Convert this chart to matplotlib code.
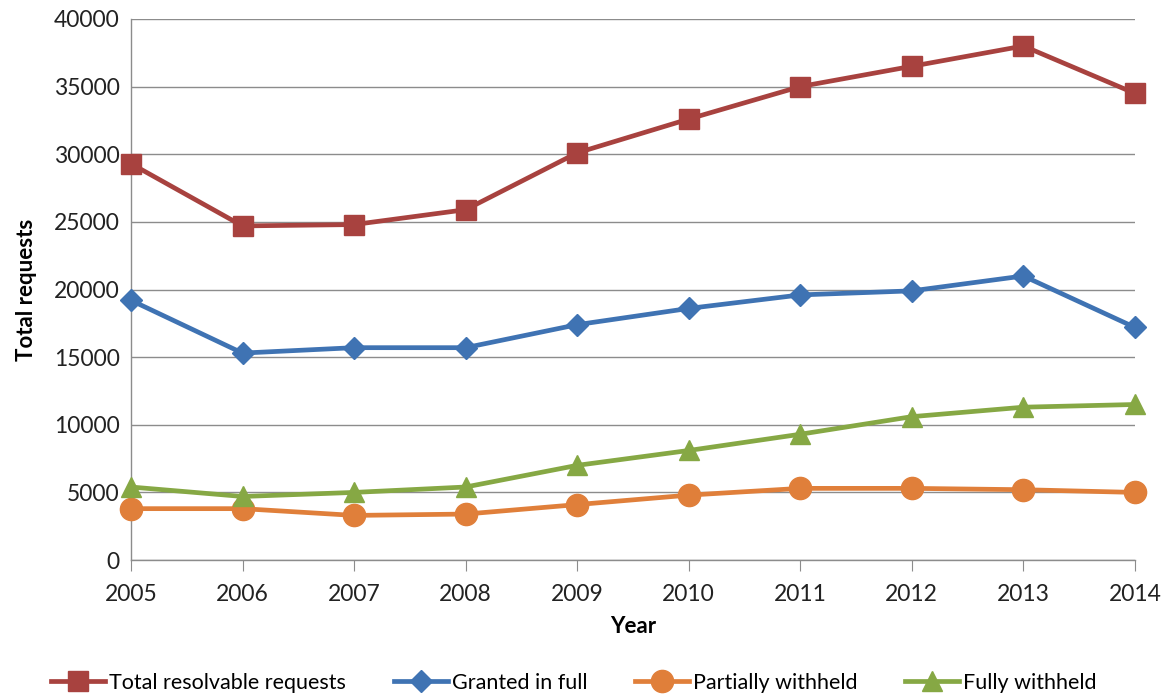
import matplotlib.pyplot as plt
from matplotlib import rcParams

rcParams["font.family"] = ["Lato", "DejaVu Sans"]

# yearly request counts
years = [2005, 2006, 2007, 2008, 2009, 2010, 2011, 2012, 2013, 2014]
total_resolvable = [29300, 24700, 24800, 25900, 30100, 32600, 35000, 36500, 38000, 34500]
granted_full = [19200, 15300, 15700, 15700, 17400, 18600, 19600, 19900, 21000, 17200]
partially_withheld = [3800, 3800, 3300, 3400, 4100, 4800, 5300, 5300, 5200, 5000]
fully_withheld = [5400, 4700, 5000, 5400, 7000, 8100, 9300, 10600, 11300, 11500]

series = [
    ("Total resolvable requests", total_resolvable, "#A8423F", "s", 15),
    ("Granted in full", granted_full, "#3F73B3", "D", 11.5),
    ("Partially withheld", partially_withheld, "#E07F3A", "o", 16),
    ("Fully withheld", fully_withheld, "#86A844", "^", 15),
]

fig = plt.figure(figsize=(11.64, 6.94), dpi=100)
ax = fig.add_axes([0.1125, 0.193, 0.8625, 0.7797])

for name, vals, col, mk, ms in series:
    ax.plot(years, vals, color=col, lw=3.4, marker=mk, markersize=ms,
            markeredgecolor=col, label=name, clip_on=False, zorder=3)

ax.set_xlim(2005, 2014)
ax.set_ylim(0, 40000)
ax.set_xticks(years)
ax.set_yticks(range(0, 40001, 5000))
ax.grid(axis="y", color="#8C8C8C", lw=1)
ax.set_axisbelow(True)

for s in ["top", "right"]:
    ax.spines[s].set_visible(False)
for s in ["left", "bottom"]:
    ax.spines[s].set_color("#8C8C8C")
    ax.spines[s].set_linewidth(1)

ax.tick_params(axis="y", length=0, labelsize=16.5, pad=8, colors="#222222")
ax.tick_params(axis="x", length=8, direction="out", color="#8C8C8C",
               labelsize=16.5, pad=9, labelcolor="#222222")

ax.set_ylabel("Total requests", fontsize=16, fontweight="bold", labelpad=12)
ax.set_xlabel("Year", fontsize=16, fontweight="bold", labelpad=8)

fig.legend(loc="lower center", ncol=4, frameon=False, fontsize=15.5,
           bbox_to_anchor=(0.493, -0.026), handlelength=2.5, columnspacing=2.2,
           handletextpad=0.2)

fig.savefig("out.png", dpi=100)
